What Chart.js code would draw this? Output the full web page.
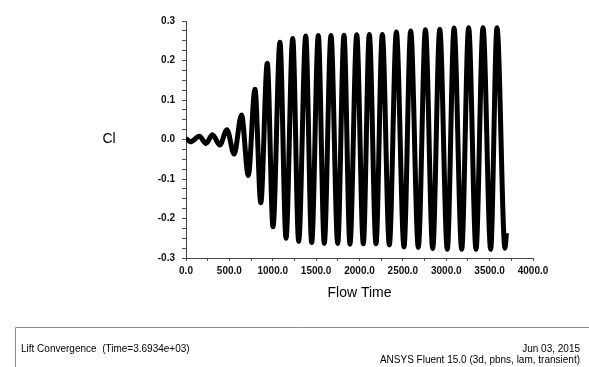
<!DOCTYPE html>
<html>
<head>
<meta charset="utf-8">
<title>Lift Convergence</title>
<script src="https://cdn.jsdelivr.net/npm/chart.js@4.4.1/dist/chart.umd.min.js"></script>
<style>
  html, body { margin: 0; padding: 0; background: #ffffff; }
  #wrap { position: relative; width: 589px; height: 367px; }
  canvas { display: block; }
</style>
</head>
<body>
<div id="wrap"><canvas id="cl" width="589" height="367"></canvas></div>
<script>
// Lift coefficient history: successive crests and troughs of Cl versus flow time
const flowTime = [
  0, 50, 155, 230, 305, 390, 472, 555, 640, 718,
  795, 862, 937, 1003, 1083, 1153, 1230, 1299, 1380, 1449,
  1525, 1594, 1671, 1749, 1821, 1890, 1968, 2044, 2113, 2190,
  2263, 2344, 2425, 2513, 2590, 2678, 2760, 2844, 2925, 3012,
  3090, 3178, 3258, 3343, 3424, 3512, 3585, 3677, 3693.4
];
const liftCoeff = [
  0.003, -0.006, 0.008, -0.010, 0.012, -0.014, 0.025, -0.037, 0.062, -0.091,
  0.127, -0.160, 0.193, -0.221, 0.246, -0.250, 0.256, -0.258, 0.262, -0.261,
  0.263, -0.263, 0.263, -0.263, 0.264, -0.265, 0.265, -0.264, 0.266, -0.264,
  0.266, -0.267, 0.272, -0.272, 0.275, -0.273, 0.278, -0.276, 0.279, -0.278,
  0.282, -0.278, 0.283, -0.278, 0.283, -0.278, 0.283, -0.275, -0.237
];

// Axis ranges and labelled tick spacing
const xRange = [0, 4000];
const xMinorStep = 250;
const xLabelStep = 500;
const yRange = [-0.3, 0.3];
const yMinorStep = 0.025;
const yLabelStep = 0.1;

// Caption texts
const xTitle = 'Flow Time';
const yTitle = 'Cl';
const footLeft = 'Lift Convergence  (Time=3.6934e+03)';
const footRight1 = 'Jun 03, 2015';
const footRight2 = 'ANSYS Fluent 15.0 (3d, pbns, lam, transient)';

const points = flowTime.map((t, i) => ({ x: t, y: liftCoeff[i] }));

const FONT = '"Liberation Sans", Arial, Helvetica, sans-serif';

function onStep(v, step) {
  const r = v / step;
  return Math.abs(r - Math.round(r)) < 1e-6;
}

// Titles and the report strip underneath the plot
const captions = {
  id: 'captions',
  afterDraw(chart) {
    const ctx = chart.ctx;
    const area = chart.chartArea;
    ctx.save();
    ctx.fillStyle = '#000';
    ctx.textBaseline = 'middle';

    ctx.font = '14px ' + FONT;
    ctx.textAlign = 'center';
    ctx.fillText(xTitle, (area.left + area.right) / 2, area.bottom + 35);
    ctx.fillText(yTitle, 109, (area.top + area.bottom) / 2);

    // report strip
    ctx.strokeStyle = '#8a8a8a';
    ctx.lineWidth = 1;
    ctx.beginPath();
    ctx.moveTo(15.5, chart.height + 2);
    ctx.lineTo(15.5, 327.5);
    ctx.lineTo(chart.width + 2, 327.5);
    ctx.stroke();

    ctx.font = '10px ' + FONT;
    ctx.textAlign = 'left';
    ctx.fillText(footLeft, 21, 349);
    ctx.textAlign = 'right';
    ctx.fillText(footRight1, 580, 349);
    ctx.fillText(footRight2, 580, 360);
    ctx.restore();
  }
};

new Chart(document.getElementById('cl'), {
  type: 'line',
  data: {
    datasets: [{
      data: points,
      borderColor: '#000000',
      borderWidth: 5,
      pointRadius: 0,
      pointHoverRadius: 0,
      cubicInterpolationMode: 'monotone',
      borderJoinStyle: 'round',
      borderCapStyle: 'butt',
      fill: false
    }]
  },
  options: {
    responsive: false,
    animation: false,
    devicePixelRatio: 1,
    events: [],
    layout: { padding: { left: 0, top: 21, right: 56, bottom: 0 } },
    plugins: {
      legend: { display: false },
      tooltip: { enabled: false },
      title: { display: false }
    },
    scales: {
      x: {
        type: 'linear',
        min: xRange[0],
        max: xRange[1],
        afterFit(scale) { scale.height = 109; },
        border: { display: true, color: '#444', width: 1 },
        grid: { drawOnChartArea: false, drawTicks: true, tickLength: 3, tickColor: '#555' },
        ticks: {
          stepSize: xMinorStep,
          autoSkip: false,
          maxRotation: 0,
          padding: 4,
          color: '#111',
          font: { family: FONT, size: 10, weight: 'bold' },
          callback(v) { return onStep(v, xLabelStep) ? Number(v).toFixed(1) : ''; }
        }
      },
      y: {
        type: 'linear',
        min: yRange[0],
        max: yRange[1],
        afterFit(scale) { scale.width = 186; },
        border: { display: true, color: '#444', width: 1 },
        grid: { drawOnChartArea: false, drawTicks: true, tickLength: 4, tickColor: '#555' },
        ticks: {
          stepSize: yMinorStep,
          autoSkip: false,
          padding: 7,
          color: '#111',
          font: { family: FONT, size: 10, weight: 'bold' },
          callback(v) {
            if (!onStep(v, yLabelStep)) return '';
            return Math.abs(v) < 1e-9 ? '0.0' : Number(v).toFixed(1);
          }
        }
      }
    }
  },
  plugins: [captions]
});
</script>
</body>
</html>
